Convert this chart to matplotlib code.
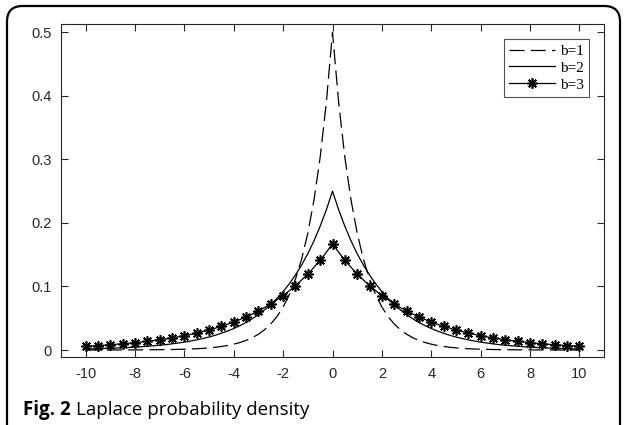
import matplotlib.pyplot as plt
from matplotlib.patches import FancyBboxPatch

# x grid for the smooth curves (step 0.25)
x_line = [i / 4 for i in range(-40, 41)]

# b=1 and b=2 densities, right half (x = 0 .. 10, step 0.25)
b1_half = [0.5, 0.3894, 0.3033, 0.2362, 0.1839, 0.1433, 0.1116, 0.0869, 0.0677,
           0.0527, 0.0410, 0.0320, 0.0249, 0.0194, 0.0151, 0.0118, 0.0092,
           0.0071, 0.0056, 0.0043, 0.0034, 0.0026, 0.0020, 0.0016, 0.0012,
           0.0010, 0.0008, 0.0006, 0.0005, 0.0004, 0.0003, 0.0002, 0.0002,
           0.0001, 0.0001, 0.0001, 0.0001, 0.0, 0.0, 0.0, 0.0]
b2_half = [0.25, 0.2206, 0.1947, 0.1718, 0.1516, 0.1338, 0.1181, 0.1042, 0.0920,
           0.0812, 0.0716, 0.0632, 0.0558, 0.0492, 0.0435, 0.0383, 0.0338,
           0.0299, 0.0264, 0.0232, 0.0205, 0.0181, 0.0160, 0.0141, 0.0124,
           0.0110, 0.0097, 0.0085, 0.0075, 0.0067, 0.0059, 0.0052, 0.0046,
           0.0040, 0.0036, 0.0031, 0.0028, 0.0025, 0.0022, 0.0019, 0.0017]
b1 = b1_half[:0:-1] + b1_half
b2 = b2_half[:0:-1] + b2_half

# b=3 markers (step 0.5)
x_mark = [i / 2 for i in range(-20, 21)]
b3_half = [0.1667, 0.1411, 0.1194, 0.1011, 0.0856, 0.0724, 0.0613, 0.0519,
           0.0439, 0.0372, 0.0315, 0.0266, 0.0226, 0.0191, 0.0162, 0.0137,
           0.0116, 0.0098, 0.0083, 0.0070, 0.0059]
b3 = b3_half[:0:-1] + b3_half

xticks = list(range(-10, 11, 2))
yticks = [0, 0.1, 0.2, 0.3, 0.4, 0.5]

fig = plt.figure(figsize=(6.25, 4.25), dpi=100)
ax = fig.add_axes([61 / 625, 1 - 357 / 425, 543 / 625, 333 / 425])

ax.plot(x_line, b1, color='black', lw=0.9, linestyle=(0, (12, 5)), label='b=1')
ax.plot(x_line, b2, color='black', lw=0.9, label='b=2')
ax.plot(x_mark, b3, color='black', lw=0.9, marker=(8, 2, 0), markersize=7.5,
        markeredgewidth=1.2, label='b=3')

ax.set_xlim(-11, 11)
ax.set_ylim(-0.011, 0.513)
ax.set_xticks(xticks)
ax.set_yticks(yticks)
ax.set_xticklabels([str(t) for t in xticks])
ax.set_yticklabels(['0', '0.1', '0.2', '0.3', '0.4', '0.5'])
ax.tick_params(direction='in', top=True, right=True, length=5, width=0.8,
               colors='#262626', labelsize=10.5, pad=7)
for lab in ax.get_xticklabels() + ax.get_yticklabels():
    lab.set_fontfamily('Liberation Sans')
    lab.set_color('#262626')
for s in ax.spines.values():
    s.set_color('#262626')
    s.set_linewidth(0.8)

leg = ax.legend(loc='upper right', bbox_to_anchor=(589 / 625, 1 - 39 / 425),
                bbox_transform=fig.transFigure,
                prop={'family': 'Liberation Serif', 'size': 11},
                frameon=True, fancybox=False, edgecolor='#262626', handlelength=3.0,
                handletextpad=0.3, borderpad=0.35, labelspacing=0.2, borderaxespad=0)
leg.get_frame().set_linewidth(0.8)

# caption: bold "Fig. 2" followed by plain text
cap1 = fig.text(23 / 625, 1 - 415 / 425, 'Fig. 2', fontsize=13.5, fontweight='bold',
                family='Open Sans', va='baseline')
fig.canvas.draw()
bb = cap1.get_window_extent()
fig.text((bb.x1 + 5) / 625, 1 - 415 / 425, 'Laplace probability density',
         fontsize=13.5, family='Open Sans', va='baseline')

frame = FancyBboxPatch((7 / 625, -0.1), 613 / 625, 1.1 - 6 / 425,
                       boxstyle='round,pad=0,rounding_size=0.025',
                       transform=fig.transFigure, fill=False, edgecolor='black',
                       lw=1.6, mutation_aspect=625 / 425)
fig.patches.append(frame)

fig.savefig('out.png', dpi=100)
